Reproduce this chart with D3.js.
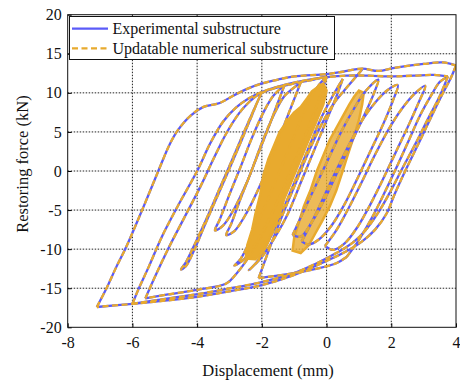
<!DOCTYPE html>
<html>
<head>
<meta charset="utf-8">
<script src="https://cdn.jsdelivr.net/npm/d3@7"></script>
<style>
  body { margin: 0; background: #fff; }
  svg { display: block; font-family: "Liberation Serif", "Times New Roman", serif; }
</style>
</head>
<body>
<div id="chart"></div>
<script>
// axis ticks
const xTicks = [-8, -6, -4, -2, 0, 2, 4];
const yTicks = [-20, -15, -10, -5, 0, 5, 10, 15, 20];

// hysteresis branches, [displacement (mm), restoring force (kN)]
const outerAsc = [[-7.1,-17.4],[-6.8,-15],[-6.5,-12.3],[-6.2,-9.8],[-5.7,-5],[-5.2,0],[-4.85,3.4],[-4.6,5.2],[-4.2,7.1],[-3.8,8.2],[-3.3,8.7],[-2.9,9.6],[-2.4,10.6],[-2,11.2],[-1.5,11.7],[-1,12.1],[0,12.4],[0.5,12.7],[1.1,13.1],[1.6,12.8],[2.1,13.2],[3,13.7],[3.6,13.9],[4.0,13.5]];
const outerDesc = [[4.0,13.5],[3.85,12],[3.6,10],[3.3,7.5],[2.9,4],[2.43,0],[2.1,-3],[1.86,-5.4],[1.5,-7.5],[1.1,-9],[0.6,-10.3],[0,-11.5],[-1,-13.3],[-2,-14.6],[-3,-15.4],[-4,-16.1],[-5,-16.6],[-6,-17.0],[-7.1,-17.4]];
const loop2Asc = [[-6,-17.0],[-5.8,-15],[-5.5,-12.3],[-5.1,-8.5],[-4.6,-4.5],[-4.0,0],[-3.6,3.5],[-3.2,6.3],[-2.8,8.1],[-2.4,9.3],[-2.0,10.1],[-1.5,10.8],[-0.9,11.4],[-0.2,11.9],[0.6,12.2],[1.3,12.2],[2.0,12.1],[2.7,12.2],[3.3,12.3],[3.75,12.1]];
const loop2Desc = [[3.75,12.1],[3.5,9.6],[3.15,6.8],[2.75,3.5],[2.3,0],[1.95,-2.8],[1.6,-5.3],[1.2,-7.6],[0.8,-9.2],[0.3,-10.5],[-0.3,-11.8],[-1.1,-13.2],[-2.1,-14.3],[-3.1,-15.1],[-4.2,-15.9],[-5.2,-16.5],[-6,-17.0]];
const loop3Asc = [[-5.6,-16.3],[-5.3,-13.5],[-4.9,-10],[-4.4,-6],[-3.9,-2],[-3.5,1.5],[-3.1,4.8],[-2.7,7.4],[-2.4,8.8],[-2.1,9.8],[-1.6,10.6],[-1.0,11.2],[-0.4,11.7],[0.0,12.1]];
const loop3Desc = [[0.0,12.1],[-0.2,9.5],[-0.5,6.2],[-0.9,2.2],[-1.3,-1.8],[-1.7,-5.6],[-2.1,-9],[-2.5,-11.6],[-2.8,-13.2],[-3.1,-14.4],[-4.0,-15.2],[-4.9,-15.8],[-5.6,-16.3]];
const fingerA = [[-2.0,10.1],[-2.25,7.8],[-2.55,5],[-2.9,1.6],[-3.3,-2.2],[-3.7,-6],[-4.1,-9.6],[-4.35,-11.7],[-4.5,-12.6],[-4.35,-12.2],[-4.1,-10.2],[-3.75,-6.8],[-3.35,-3],[-2.95,0.8],[-2.6,4.2],[-2.3,7.2],[-2.1,9.2],[-2.0,10.1]];
const fingerB = [[-1.3,11.0],[-1.5,8.8],[-1.8,5.5],[-2.15,1.8],[-2.5,-1.8],[-2.85,-4.8],[-3.2,-7],[-3.45,-7.6],[-3.3,-6.2],[-3.0,-3],[-2.65,0.6],[-2.3,4.3],[-1.95,7.5],[-1.65,9.6],[-1.3,11.0]];
const fingerC = [[-0.8,11.3],[-1.0,9.2],[-1.3,6],[-1.65,2.2],[-2.05,-1.8],[-2.45,-5.2],[-2.85,-7.7],[-3.1,-8.2],[-2.95,-6.8],[-2.7,-4],[-2.35,-0.3],[-2.0,3.6],[-1.65,7],[-1.3,9.6],[-0.8,11.3]];
const fingerD = [[0.0,12.0],[-0.2,9.5],[-0.5,6.2],[-0.85,2.5],[-1.25,-1.5],[-1.7,-5.5],[-2.15,-9],[-2.55,-11.3],[-2.85,-12.1],[-2.65,-11.2],[-2.3,-8.3],[-1.9,-4.5],[-1.5,-0.5],[-1.1,3.5],[-0.75,7],[-0.45,9.6],[-0.2,11.2],[0.0,12.0]];
const fingerE = [[0.5,11.8],[0.3,9.5],[0.0,6.5],[-0.4,2.5],[-0.8,-1.5],[-1.2,-5.5],[-1.6,-8.5],[-2.0,-11],[-2.4,-12.7],[-2.15,-11.6],[-1.75,-8.6],[-1.35,-5],[-0.95,-1],[-0.55,3],[-0.2,6.5],[0.15,9.3],[0.5,11.8]];
const bottomC = [[-2.1,-13.7],[-1.2,-13.2],[-0.3,-12.5],[0.3,-11.8],[0.62,-11.0]];
const riseC = [[0.62,-11.0],[1.0,-8.8],[1.4,-6],[1.8,-2.7],[2.2,0.8],[2.55,4],[2.9,7.2],[3.25,9.8],[3.5,11.4],[3.75,12.1]];
const ascE = [[-2.1,-13.7],[-1.95,-12],[-1.7,-9.2],[-1.35,-5.5],[-0.95,-1.5],[-0.55,2.5],[-0.15,6],[0.25,8.8],[0.65,10.8],[1.1,13.0]];
const fingerR1 = [[-0.05,-9.6],[0.3,-7.6],[0.7,-4.6],[1.1,-1.3],[1.5,2.1],[1.9,5.2],[2.3,7.8],[2.7,9.8],[3.05,10.9],[2.85,8.8],[2.55,6],[2.15,2.5],[1.75,-1],[1.35,-4.3],[0.95,-7.2],[0.55,-9.3],[0.2,-10.1],[-0.05,-9.6]];
const fingerR2 = [[-0.77,-9.0],[-0.45,-6.5],[-0.05,-3],[0.35,0.5],[0.75,3.8],[1.15,6.8],[1.55,9],[1.9,10.4],[2.2,11.0],[2.05,9],[1.75,6],[1.35,2.5],[0.95,-1],[0.55,-4.3],[0.15,-7],[-0.25,-8.8],[-0.55,-9.4],[-0.77,-9.0]];
const fingerR3 = [[-1.05,-8.2],[-0.75,-5.5],[-0.35,-2],[0.05,1.5],[0.45,5],[0.85,8],[1.2,10.2],[1.6,11.7],[1.45,9.8],[1.15,7],[0.75,3.5],[0.35,0],[-0.05,-3.5],[-0.45,-6.5],[-0.8,-8.4],[-1.05,-8.2]];

// dense small-amplitude cycles, outlines of the two clouds
const cloud1 = [[-2.5,-11.2],[-2.45,-9.5],[-2.3,-7.5],[-2.2,-5.5],[-2.05,-3],[-1.95,-0.5],[-1.8,1.5],[-1.6,3.5],[-1.45,5],[-1.2,6.5],[-1.0,7.5],[-0.8,8.2],[-0.6,9.3],[-0.45,10.2],[-0.25,10.8],[-0.1,11.2],[0.0,10.3],[-0.1,8.5],[-0.3,6.5],[-0.5,4.5],[-0.7,2.5],[-0.9,0.5],[-1.1,-1.5],[-1.3,-3.5],[-1.45,-5.5],[-1.65,-7.5],[-1.85,-9.5],[-2.0,-10.5],[-2.2,-11.3]];
const cloud2 = [[-1.05,-10.2],[-1.0,-8.5],[-0.85,-6.5],[-0.7,-4.5],[-0.5,-2.5],[-0.3,0],[-0.1,2],[0.1,4],[0.3,5.5],[0.5,7],[0.7,8.5],[0.85,9.5],[1.0,10.3],[1.15,10],[1.1,8.5],[1.0,6.5],[0.85,4.5],[0.65,2],[0.5,0],[0.3,-2.5],[0.1,-4.5],[-0.15,-6.5],[-0.35,-8],[-0.55,-9.5],[-0.8,-10.5]];

const branches = [outerAsc, outerDesc, loop2Asc, loop2Desc, loop3Asc, loop3Desc, fingerA, fingerB, fingerC, fingerD, fingerE, bottomC, riseC, ascE, fingerR1, fingerR2, fingerR3];

const width = 460, height = 383;
const plotLeft = 67.7, plotRight = 456, plotTop = 14.7, plotBottom = 327.3;
const blue = '#5b5bf8', orange = '#e8aa2e';

const svg = d3.select('#chart').append('svg')
  .attr('width', width).attr('height', height)
  .attr('viewBox', `0 0 ${width} ${height}`);

const x = d3.scaleLinear().domain([-8, 4]).range([plotLeft, plotRight]);
const y = d3.scaleLinear().domain([-20, 20]).range([plotBottom, plotTop]);

svg.append('defs').append('clipPath').attr('id', 'plot')
  .append('rect').attr('x', plotLeft).attr('y', plotTop)
  .attr('width', plotRight - plotLeft).attr('height', plotBottom - plotTop);

// grid
svg.append('g')
  .selectAll('line').data(xTicks.slice(1, -1)).enter().append('line')
  .attr('x1', d => x(d)).attr('x2', d => x(d)).attr('y1', plotTop).attr('y2', plotBottom)
  .attr('stroke', '#222').attr('stroke-width', 1).attr('stroke-dasharray', '1.5,1.5');
svg.append('g')
  .selectAll('line').data(yTicks.slice(1, -1)).enter().append('line')
  .attr('y1', d => y(d)).attr('y2', d => y(d)).attr('x1', plotLeft).attr('x2', plotRight)
  .attr('stroke', '#222').attr('stroke-width', 1).attr('stroke-dasharray', '1.5,1.5');

const line = d3.line().x(d => x(d[0])).y(d => y(d[1])).curve(d3.curveCatmullRom.alpha(0.5));
const area = d3.line().x(d => x(d[0])).y(d => y(d[1])).curve(d3.curveLinearClosed);

const plot = svg.append('g').attr('clip-path', 'url(#plot)');

plot.append('path').datum(cloud2).attr('d', area).attr('fill', orange).attr('fill-opacity', 0.8)
  .attr('stroke', orange).attr('stroke-width', 2.5);

plot.append('g').selectAll('path').data(branches).enter().append('path')
  .attr('d', line).attr('fill', 'none').attr('stroke', blue).attr('stroke-width', 2.3)
  .attr('stroke-linejoin', 'round');

plot.append('path').datum(cloud1).attr('d', area).attr('fill', orange)
  .attr('stroke', orange).attr('stroke-width', 2.5).attr('stroke-linejoin', 'round');

plot.append('g').selectAll('path').data(branches).enter().append('path')
  .attr('d', line).attr('fill', 'none').attr('stroke', orange).attr('stroke-width', 2.3)
  .attr('stroke-dasharray', '6,3.5').attr('stroke-linejoin', 'round');

// axes
const fmt = d => String(d);
svg.append('g').attr('transform', `translate(0,${plotBottom})`)
  .call(d3.axisBottom(x).tickValues(xTicks).tickFormat(fmt).tickSizeInner(-4).tickSizeOuter(0).tickPadding(9))
  .call(g => g.select('.domain').remove())
  .call(g => g.selectAll('text').attr('font-size', 16).attr('fill', '#111'))
  .attr('font-family', null);
svg.append('g').attr('transform', `translate(${plotLeft},0)`)
  .call(d3.axisLeft(y).tickValues(yTicks).tickFormat(fmt).tickSizeInner(-4).tickSizeOuter(0).tickPadding(6))
  .call(g => g.select('.domain').remove())
  .call(g => g.selectAll('text').attr('font-size', 16).attr('fill', '#111'))
  .attr('font-family', null);

svg.append('rect').attr('x', plotLeft).attr('y', plotTop)
  .attr('width', plotRight - plotLeft).attr('height', plotBottom - plotTop)
  .attr('fill', 'none').attr('stroke', '#111').attr('stroke-width', 1);

svg.append('text').attr('x', 268).attr('y', 376).attr('text-anchor', 'middle')
  .attr('font-size', 16.5).attr('fill', '#111').text('Displacement (mm)');
svg.append('text').attr('transform', 'translate(28,164) rotate(-90)').attr('text-anchor', 'middle')
  .attr('font-size', 16.5).attr('fill', '#111').text('Restoring force (kN)');

// legend
const legend = svg.append('g');
legend.append('rect').attr('x', 69.5).attr('y', 16.5).attr('width', 265).attr('height', 43)
  .attr('fill', '#fff').attr('stroke', '#111').attr('stroke-width', 1);
legend.append('line').attr('x1', 72).attr('x2', 108).attr('y1', 28.7).attr('y2', 28.7)
  .attr('stroke', blue).attr('stroke-width', 2.3);
legend.append('line').attr('x1', 72).attr('x2', 108).attr('y1', 48.3).attr('y2', 48.3)
  .attr('stroke', orange).attr('stroke-width', 2.3).attr('stroke-dasharray', '6,3.5');
legend.append('text').attr('x', 112.5).attr('y', 34.2).attr('font-size', 16).attr('fill', '#111').text('Experimental substructure');
legend.append('text').attr('x', 112.5).attr('y', 53.9).attr('font-size', 16).attr('fill', '#111').text('Updatable numerical substructure');
</script>
</body>
</html>
